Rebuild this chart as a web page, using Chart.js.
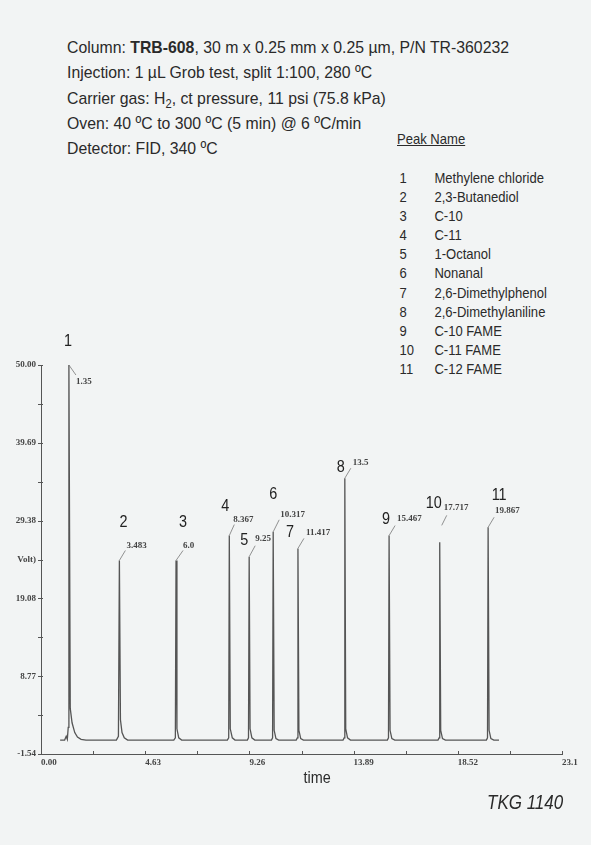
<!DOCTYPE html>
<html>
<head>
<meta charset="utf-8">
<script src="https://cdn.jsdelivr.net/npm/chart.js@4.4.0/dist/chart.umd.min.js"></script>
<style>
  body { margin: 0; width: 591px; height: 845px; background: #f2f4f4; position: relative; overflow: hidden;
         font-family: "Liberation Sans Narrow", "Liberation Sans", Arial, sans-serif; color: #2a2a2a; }
  .hdr { position: absolute; left: 67px; top: 35px; font-size: 17px; line-height: 25.3px; white-space: nowrap;
         transform: scaleX(0.93); transform-origin: left top; }
  .hdr sub { font-size: 12px; line-height: 0; }
  .peaks { position: absolute; left: 397px; top: 129px; font-size: 15px; white-space: nowrap;
           transform: scaleX(0.87); transform-origin: left top; }
  .peaks .title { text-decoration: underline; height: 39px; line-height: 20px; }
  .peaks .row { height: 19.1px; line-height: 19.1px; }
  .peaks .n { display: inline-block; width: 40px; padding-left: 3px; }
  #wrap { position: absolute; left: 0; top: 330px; width: 591px; height: 470px; }
  .time { position: absolute; left: 0; width: 634px; top: 769px; text-align: center; font-size: 16px; }
  .time span { display: inline-block; transform: scaleX(0.9); }
  .tkg { position: absolute; left: 487px; top: 791px; font-size: 20px; font-style: italic;
         transform: scaleX(0.85); transform-origin: left top; }
</style>
</head>
<body>
<div class="hdr">
  <div>Column: <b>TRB-608</b>, 30 m x 0.25 mm x 0.25 µm, P/N TR-360232</div>
  <div>Injection: 1 µL Grob test, split 1:100, 280 ºC</div>
  <div>Carrier gas: H<sub>2</sub>, ct pressure, 11 psi (75.8 kPa)</div>
  <div>Oven: 40 ºC to 300 ºC (5 min) @ 6 ºC/min</div>
  <div>Detector: FID, 340 ºC</div>
</div>
<div class="peaks" id="peaks"><div class="title">Peak Name</div></div>
<div id="wrap"><canvas id="chrom" width="591" height="470"></canvas></div>
<div class="time"><span>time</span></div>
<div class="tkg">TKG 1140</div>

<script>
// ── Data ───────────────────────────────────────────────────────
const peakNumbers = ['1', '2', '3', '4', '5', '6', '7', '8', '9', '10', '11'];
const peakNames = ['Methylene chloride', '2,3-Butanediol', 'C-10', 'C-11', '1-Octanol', 'Nonanal',
                   '2,6-Dimethylphenol', '2,6-Dimethylaniline', 'C-10 FAME', 'C-11 FAME', 'C-12 FAME'];
const peakTimeLabels = ['1.35', '3.483', '6.0', '8.367', '9.25', '10.317', '11.417', '13.5', '15.467', '17.717', '19.867'];
const peakApexTime = [1.24, 3.483, 6.0, 8.367, 9.25, 10.317, 11.417, 13.5, 15.467, 17.717, 19.867];
const peakHeight = [50.0, 24.1, 24.1, 27.4, 24.6, 27.9, 25.7, 35.0, 27.4, 26.5, 28.5];

// detector trace (time, signal)
const traceTime = [
  0.85, 1.05, 1.12, 1.17, 1.21, 1.24, 1.30, 1.38, 1.50, 1.62, 1.78, 2.00,
  3.35, 3.44, 3.483, 3.53, 3.60, 3.70, 3.85,
  5.90, 5.97, 6.0, 6.04, 6.12, 6.25,
  8.28, 8.34, 8.367, 8.41, 8.50, 8.62,
  9.17, 9.22, 9.25, 9.29, 9.37, 9.50,
  10.24, 10.29, 10.317, 10.36, 10.44, 10.56,
  11.34, 11.39, 11.417, 11.46, 11.54, 11.66,
  13.42, 13.47, 13.5, 13.54, 13.62, 13.75,
  15.39, 15.44, 15.467, 15.51, 15.59, 15.72,
  17.64, 17.69, 17.717, 17.76, 17.84, 17.97,
  19.79, 19.84, 19.867, 19.91, 19.99, 20.12, 20.35
];
const traceSignal = [
  0.3, 0.3, 0.8, 0.4, 2.0, 50.0, 4.5, 2.6, 1.3, 0.7, 0.4, 0.3,
  0.3, 0.8, 24.1, 3.0, 1.3, 0.6, 0.3,
  0.3, 0.6, 24.1, 1.8, 0.6, 0.3,
  0.3, 0.6, 27.4, 1.8, 0.6, 0.3,
  0.3, 0.6, 24.6, 1.8, 0.6, 0.3,
  0.3, 0.6, 27.9, 1.6, 0.5, 0.3,
  0.3, 0.6, 25.7, 1.6, 0.5, 0.3,
  0.3, 0.6, 35.0, 1.8, 0.6, 0.3,
  0.3, 0.6, 27.4, 1.6, 0.5, 0.3,
  0.3, 0.6, 26.5, 1.6, 0.5, 0.3,
  0.3, 0.6, 28.5, 1.6, 0.5, 0.3, 0.3
];

const xTickValues = [0, 2.315, 4.63, 6.945, 9.26, 11.575, 13.89, 16.205, 18.52, 20.835, 23.15];
const xTickLabels = ['0.00', '', '4.63', '', '9.26', '', '13.89', '', '18.52', '', '23.1'];
const yTickValues = [-1.54, 3.615, 8.77, 13.925, 19.08, 24.23, 29.38, 34.535, 39.69, 44.845, 50.00];
const yTickLabels = ['-1.54', '', '8.77', '', '19.08', 'Volt)', '29.38', '', '39.69', '', '50.00'];

// ── Peak name list ─────────────────────────────────────────────
document.getElementById('peaks').insertAdjacentHTML('beforeend',
  peakNames.map((n, i) => `<div class="row"><span class="n">${peakNumbers[i]}</span>${n}</div>`).join(''));

// ── Label placement (pixel offsets from each apex) ─────────────
// [numX, numY, timeX, timeY, leadFromX, leadFromY, leadToX, leadToY]
const labelOffsets = [
  [-1, -23, 7, 17, 0, 0, 7, 10],
  [4, -38, 7, -15, 0, 0, 6, -10],
  [7, -38, 7, -15, 0, 0, 7, -10],
  [-4, -29, 4, -16, 0, 0, 5, -11],
  [-5, -16, 6, -18, 0, 0, 6, -11],
  [0, -37, 7, -17, 0, 0, 6, -12],
  [-8, -16, 8, -16, 0, 0, 6, -10],
  [-4, -11, 8, -16, 0, 0, 6, -10],
  [-3, -16, 8, -17, 0, 0, 6, -10],
  [-6, -39, 4, -35, 2, -17, 7, -27],
  [11, -32, 7, -17, 0, 0, 6, -10]
];

const SERIF_BOLD = 'bold 9px "Liberation Serif", "Times New Roman", serif';

const peakLabels = {
  id: 'peakLabels',
  afterDatasetsDraw(chart) {
    const { ctx, scales: { x, y }, chartArea } = chart;
    ctx.save();
    // axis tick marks
    ctx.strokeStyle = '#555';
    ctx.lineWidth = 1;
    ctx.beginPath();
    xTickValues.forEach(v => {
      const px = Math.round(x.getPixelForValue(v)) + 0.5;
      ctx.moveTo(px, chartArea.bottom);
      ctx.lineTo(px, chartArea.bottom - 3);
    });
    yTickValues.forEach(v => {
      const py = Math.round(y.getPixelForValue(v)) + 0.5;
      ctx.moveTo(chartArea.left - 3, py);
      ctx.lineTo(chartArea.left + 2, py);
    });
    ctx.stroke();

    peakApexTime.forEach((t, i) => {
      const px = x.getPixelForValue(t);
      const py = y.getPixelForValue(peakHeight[i]);
      const o = labelOffsets[i];
      // leader
      ctx.strokeStyle = '#777';
      ctx.lineWidth = 0.8;
      ctx.beginPath();
      ctx.moveTo(px + o[4], py + o[5]);
      ctx.lineTo(px + o[6], py + o[7]);
      ctx.stroke();
      // retention time
      ctx.fillStyle = '#444';
      ctx.font = SERIF_BOLD;
      ctx.textAlign = 'left';
      ctx.textBaseline = 'middle';
      ctx.fillText(peakTimeLabels[i], px + o[2], py + o[3]);
      // peak number (narrowed like the printed figure)
      ctx.save();
      ctx.translate(px + o[0], py + o[1]);
      ctx.scale(0.9, 1);
      ctx.fillStyle = '#222';
      ctx.font = '16px "Liberation Sans", sans-serif';
      ctx.textAlign = 'center';
      ctx.fillText(peakNumbers[i], 0, 0);
      ctx.restore();
    });
    ctx.restore();
  }
};

// ── Chart ──────────────────────────────────────────────────────
new Chart(document.getElementById('chrom'), {
  type: 'line',
  data: {
    datasets: [{
      data: traceTime.map((t, i) => ({ x: t, y: traceSignal[i] })),
      borderColor: '#555',
      borderWidth: 1.3,
      pointRadius: 0,
      tension: 0,
      fill: false,
    }]
  },
  options: {
    responsive: false,
    animation: false,
    devicePixelRatio: 1,
    layout: { padding: { top: 35, right: 29, left: 0, bottom: 0 } },
    plugins: { legend: { display: false }, tooltip: { enabled: false } },
    scales: {
      x: {
        type: 'linear', min: 0, max: 23.15,
        afterFit: s => { s.height = 46; },
        afterBuildTicks: s => { s.ticks = xTickValues.map(v => ({ value: v })); },
        grid: { display: false, drawTicks: false },
        border: { display: true, color: '#555', width: 1 },
        ticks: {
          autoSkip: false, maxRotation: 0, align: 'start', padding: 3,
          color: '#444', font: { family: '"Liberation Serif", serif', weight: 'bold', size: 9 },
          callback: (v, i) => xTickLabels[i]
        }
      },
      y: {
        type: 'linear', min: -1.54, max: 50,
        afterFit: s => { s.width = 41; },
        afterBuildTicks: s => { s.ticks = yTickValues.map(v => ({ value: v })); },
        grid: { display: false, drawTicks: false },
        border: { display: true, color: '#555', width: 1 },
        ticks: {
          autoSkip: false, padding: 5,
          color: '#444', font: { family: '"Liberation Serif", serif', weight: 'bold', size: 9 },
          callback: (v, i) => yTickLabels[i]
        }
      }
    }
  },
  plugins: [peakLabels]
});
</script>
</body>
</html>
